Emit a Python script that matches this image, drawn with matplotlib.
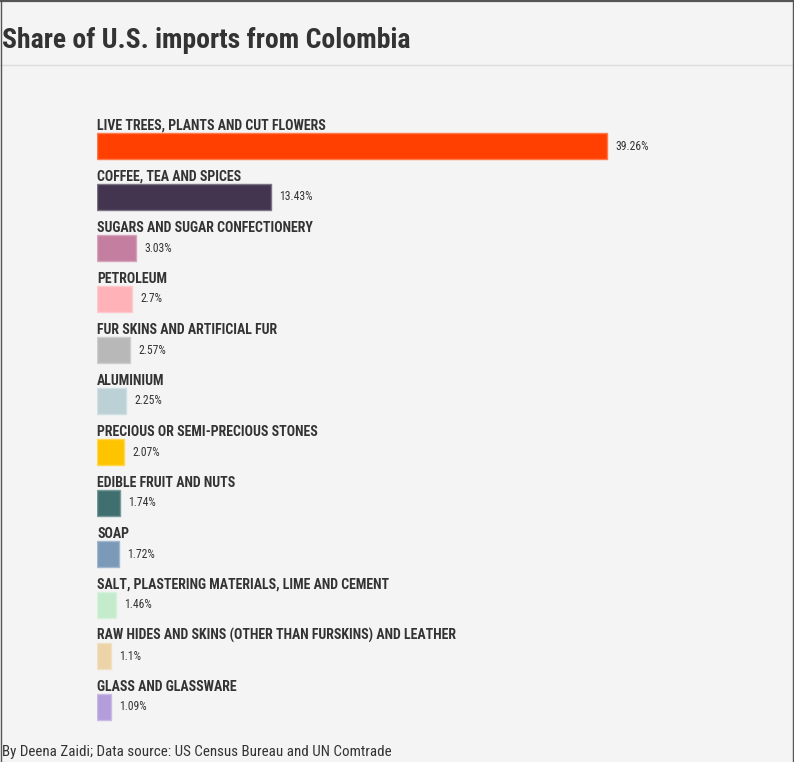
import matplotlib.pyplot as plt
import matplotlib.colors as mcolors
from matplotlib.lines import Line2D

categories = [
    "LIVE TREES, PLANTS AND CUT FLOWERS",
    "COFFEE, TEA AND SPICES",
    "SUGARS AND SUGAR CONFECTIONERY",
    "PETROLEUM",
    "FUR SKINS AND ARTIFICIAL FUR",
    "ALUMINIUM",
    "PRECIOUS OR SEMI-PRECIOUS STONES",
    "EDIBLE FRUIT AND NUTS",
    "SOAP",
    "SALT, PLASTERING MATERIALS, LIME AND CEMENT",
    "RAW HIDES AND SKINS (OTHER THAN FURSKINS) AND LEATHER",
    "GLASS AND GLASSWARE",
]
shares = [39.26, 13.43, 3.03, 2.7, 2.57, 2.25, 2.07, 1.74, 1.72, 1.46, 1.1, 1.09]
value_labels = ["39.26%", "13.43%", "3.03%", "2.7%", "2.57%", "2.25%", "2.07%",
                "1.74%", "1.72%", "1.46%", "1.1%", "1.09%"]
colors = ["#ff4000", "#433550", "#c47fa0", "#ffb3b8", "#b8b8b8", "#bcd1d6",
          "#ffc400", "#3f6f6f", "#7a9ab8", "#c5ebcd", "#ecd3a8", "#b39ddb"]

W, H = 794, 762
BG = "#f4f4f4"
TXT = "#333333"
COND = ["Roboto Condensed", "DejaVu Sans"]

fig = plt.figure(figsize=(W / 100, H / 100), dpi=100, facecolor=BG)

# pixel layout: bars start at x=97, 12.99 px per percent, rows 51 px apart
px_per_pct = 12.99
xmax = 50
top_px, bottom_px = 120.5, 732.5
ax = fig.add_axes([97 / W, (H - bottom_px) / H, xmax * px_per_pct / W,
                   (bottom_px - top_px) / H])
ax.patch.set_alpha(0)

ypos = list(range(len(categories)))
edges = [tuple(0.7 * c + 0.3 for c in mcolors.to_rgb(col)) for col in colors]
ax.barh(ypos, shares, height=0.51, color=colors, edgecolor=edges, linewidth=1)
ax.set_xlim(0, xmax)
ax.set_ylim(len(categories) - 0.5, -0.5)
ax.axis("off")

for i, (cat, val, lab) in enumerate(zip(categories, shares, value_labels)):
    ax.annotate(cat, (0, i - 0.255), xytext=(0, 2.2), textcoords="offset points",
                ha="left", va="baseline", fontsize=10, fontweight="bold",
                family=COND, color=TXT, annotation_clip=False)
    ax.annotate(lab, (val, i), xytext=(5.8, 0), textcoords="offset points",
                ha="left", va="center", fontsize=8.4, family=COND,
                color=TXT, annotation_clip=False)

# title, separator line, footer
fig.text(2 / W, 1 - 40 / H, "Share of U.S. imports from Colombia",
         ha="left", va="center", fontsize=20, fontweight="bold",
         family=COND, color=TXT)
fig.add_artist(Line2D([0, 1], [1 - 64.5 / H] * 2, transform=fig.transFigure,
                      color="#dddddd", lw=1))
fig.text(2 / W, 1 - 752 / H,
         "By Deena Zaidi; Data source: US Census Bureau and UN Comtrade",
         ha="left", va="center", fontsize=10.8, family=COND, color=TXT)

# outer frame (top, left, right)
frame = "#555555"
fig.add_artist(Line2D([0, 1], [1 - 0.8 / H] * 2, transform=fig.transFigure,
                      color=frame, lw=1.6))
fig.add_artist(Line2D([0.5 / W] * 2, [0, 1], transform=fig.transFigure,
                      color=frame, lw=1))
fig.add_artist(Line2D([1 - 1.5 / W] * 2, [0, 1], transform=fig.transFigure,
                      color=frame, lw=1))

fig.savefig("out.png", dpi=100, facecolor=BG)
